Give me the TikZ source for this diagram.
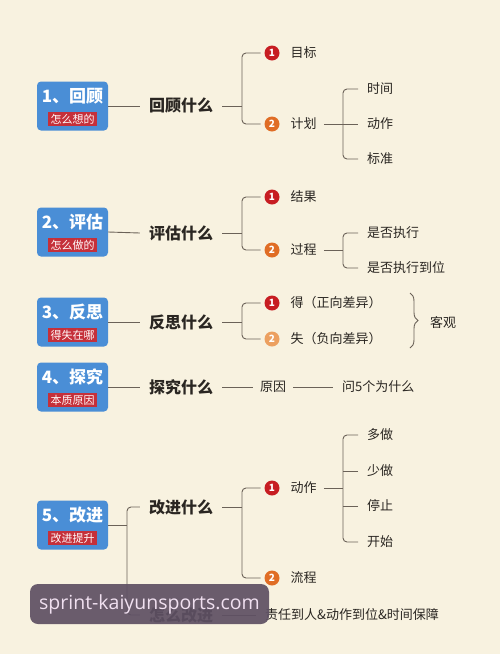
\documentclass[tikz,border=0pt]{standalone}
\usepackage{fontspec}
\setmainfont{Noto Sans CJK SC}
\newfontfamily\wmfont{Open Sans}
\usepackage{tikz}
\usetikzlibrary{positioning,decorations.pathreplacing}

\definecolor{paper}{HTML}{F8F2E0}
\definecolor{boxblue}{HTML}{4A8ED6}
\definecolor{tagred}{HTML}{C5303A}
\definecolor{redone}{HTML}{C71D22}
\definecolor{orangetwo}{HTML}{E06D25}
\definecolor{paletwo}{HTML}{ECA060}
\definecolor{wire}{HTML}{6B6258}
\definecolor{ink}{HTML}{2A2622}
\definecolor{wmgray}{HTML}{5E5063}

\begin{document}
\begin{tikzpicture}[x=1pt,y=-1pt]
      \tikzstyle{box}=[rectangle,rounded corners=4pt,fill=boxblue,minimum width=71pt,minimum height=49pt]
      \tikzstyle{title}=[text=white,inner sep=0pt,font=\bfseries\fontsize{17}{17}\selectfont]
      \tikzstyle{tag}=[rectangle,fill=tagred,text=white!90!pink,inner xsep=2.5pt,inner ysep=2pt,font=\fontsize{11}{11}\selectfont]
      \tikzstyle{ask}=[inner xsep=9pt,text=ink,font=\bfseries\fontsize{16}{16}\selectfont]
      \tikzstyle{badge}=[circle,inner sep=0pt,minimum size=15pt,outer sep=4pt,text=white,font=\bfseries\fontsize{10}{10}\selectfont]
      \tikzstyle{item}=[anchor=west,inner xsep=7pt,text=ink,font=\fontsize{13}{13}\selectfont]
      \tikzstyle{leaf}=[anchor=west,inner xsep=9pt,text=ink,font=\fontsize{13}{13}\selectfont]
      \tikzstyle{link}=[draw=wire,line width=0.9pt]
      \tikzstyle{fork}=[draw=wire,line width=0.9pt,rounded corners=4pt]

      \fill[paper] (0,0) rectangle (500,654);
      \useasboundingbox (0,0) rectangle (500,654);

      \begin{scope}
        \node[box](b1) at (72.5,106){};
        \node[title](t1) at (72.5,96){1、回顾};
        \node[tag](g1) at (72.5,119){怎么想的};
        \node[ask](q1) at (181,106){回顾什么};
        \node[badge,fill=redone](n11) at (272,53){1};
        \node[badge,fill=orangetwo](n12) at (272,124){2};
        \node[item](p11) at (n11.east){目标};
        \node[item](p12) at (n12.east){计划};
        \node[leaf](l11) at (358,89){时间};
        \node[leaf](l12) at (358,124){动作};
        \node[leaf](l13) at (358,159){标准};
        \coordinate (j1) at (242,106);
        \coordinate (j12) at (343,124);

        \path[link] (b1.east) -- (q1.west);
        \path[link] (q1.east) -- (j1);
        \path[fork] (n11.west) -| (j1) |- (n12.west);
        \path[link] (p12.east) -- (l12.west);
        \path[fork] (l11.west) -| (j12) |- (l13.west);
      \end{scope}

      \begin{scope}
        \node[box](b2) at (72.5,232){};
        \node[title](t2) at (72.5,222){2、评估};
        \node[tag](g2) at (72.5,245){怎么做的};
        \node[ask](q2) at (181,233){评估什么};
        \node[badge,fill=redone](n21) at (272,197){1};
        \node[badge,fill=orangetwo](n22) at (272,250){2};
        \node[item](p21) at (n21.east){结果};
        \node[item](p22) at (n22.east){过程};
        \node[leaf](l21) at (358,233){是否执行};
        \node[leaf](l22) at (358,268){是否执行到位};
        \coordinate (j2) at (242,233);
        \coordinate (j22) at (343,250);

        \path[link] (b2.east) -- (q2.west);
        \path[link] (q2.east) -- (j2);
        \path[fork] (n21.west) -| (j2) |- (n22.west);
        \path[link] (p22.east) -- (j22);
        \path[fork] (l21.west) -| (j22) |- (l22.west);
      \end{scope}

      \begin{scope}
        \node[box](b3) at (72.5,322){};
        \node[title](t3) at (72.5,312){3、反思};
        \node[tag](g3) at (72.5,335){得失在哪};
        \node[ask](q3) at (181,322){反思什么};
        \node[badge,fill=redone](n31) at (272,303){1};
        \node[badge,fill=paletwo](n32) at (272,339){2};
        \node[item](p31) at (n31.east){得（正向差异）};
        \node[item](p32) at (n32.east){失（负向差异）};
        \node[anchor=west,inner sep=0pt,text=ink,font=\fontsize{13}{13}\selectfont](obj) at (430,322){客观};
        \coordinate (j3) at (242,322);
        \coordinate (k1) at (410,293);
        \coordinate (k2) at (410,348);

        \path[link] (b3.east) -- (q3.west);
        \path[link] (q3.east) -- (j3);
        \path[fork] (n31.west) -| (j3) |- (n32.west);
        \path[link,decorate,decoration={brace,amplitude=8pt}] (k1) -- (k2);
      \end{scope}

      \begin{scope}
        \node[box](b4) at (72.5,387){};
        \node[title](t4) at (72.5,377){4、探究};
        \node[tag](g4) at (72.5,400){本质原因};
        \node[ask](q4) at (181,387){探究什么};
        \node[item](p41) at (253,387){原因};
        \node[leaf](l41) at (333,387){问5个为什么};

        \path[link] (b4.east) -- (q4.west);
        \path[link] (q4.east) -- (p41.west);
        \path[link] (p41.east) -- (l41.west);
      \end{scope}

      \begin{scope}
        \node[box](b5) at (72.5,525){};
        \node[title](t5) at (72.5,515){5、改进};
        \node[tag](g5) at (72.5,538){改进提升};
        \node[ask](q5) at (181,507){改进什么};
        \node[ask](h5) at (181,615){怎么改进};
        \node[badge,fill=redone](n51) at (272,488){1};
        \node[badge,fill=orangetwo](n52) at (272,578){2};
        \node[item](p51) at (n51.east){动作};
        \node[item](p52) at (n52.east){流程};
        \node[leaf](l51) at (358,435){多做};
        \node[leaf](l52) at (358,471){少做};
        \node[leaf](l53) at (358,506){停止};
        \node[leaf](l54) at (358,542){开始};
        \node[leaf](r5) at (256,615){责任到人\&动作到位\&时间保障};
        \coordinate (j5) at (127,525);
        \coordinate (j51) at (242,507);
        \coordinate (j52) at (343,488);

        \path[link] (b5.east) -- (j5);
        \path[fork] (q5.west) -| (j5) |- (h5.west);
        \path[link] (q5.east) -- (j51);
        \path[fork] (n51.west) -| (j51) |- (n52.west);
        \path[link] (p51.east) -- (j52);
        \path[fork] (l51.west) -| (j52) |- (l54.west);
        \path[link] (l52.west) -- (l52.west -| j52);
        \path[link] (l53.west) -- (l53.west -| j52);
        \path[link] (h5.east) -- (r5.west);
      \end{scope}

      \node[rectangle,rounded corners=8pt,fill=wmgray,fill opacity=0.92,text opacity=1,
            text=white!88!violet,minimum width=239pt,minimum height=40pt,
            font=\wmfont\fontsize{19.5}{19.5}\selectfont](wm) at (149.5,604){sprint-kaiyunsports.com};
    \end{tikzpicture}
\end{document}
